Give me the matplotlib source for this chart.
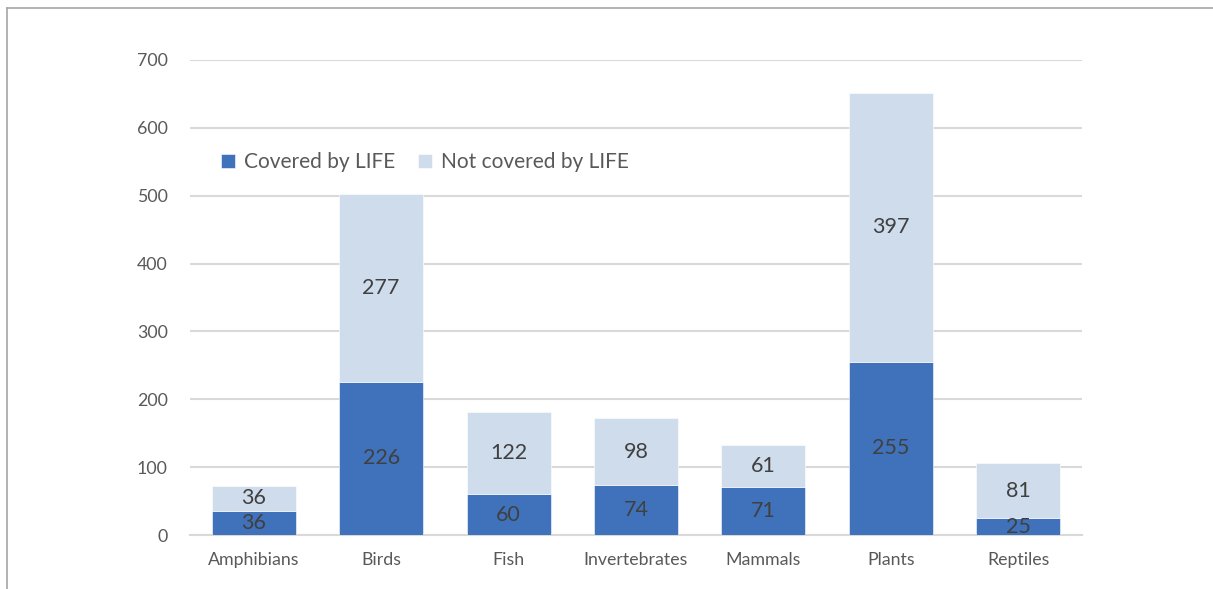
import numpy as np
import matplotlib
matplotlib.use('Agg')
import matplotlib.pyplot as plt
from matplotlib.lines import Line2D

plt.rcParams['font.family'] = ['Lato', 'DejaVu Sans']

# data
categories = ['Amphibians', 'Birds', 'Fish', 'Invertebrates', 'Mammals', 'Plants', 'Reptiles']
covered = [36, 226, 60, 74, 71, 255, 25]
not_covered = [36, 277, 122, 98, 61, 397, 81]
series_names = ['Covered by LIFE', 'Not covered by LIFE']

dark_blue = '#3F72BA'
light_blue = '#CFDCEC'
text_col = '#595959'
label_col = '#404040'

fig = plt.figure(figsize=(12.13, 5.89), dpi=100)
ax = fig.add_axes([190/1213, 1-535/589, (1082-190)/1213, (535-60)/589])

pos = np.arange(len(categories))
ax.bar(pos, covered, width=0.66, color=dark_blue, edgecolor='white', linewidth=0.4,
       label=series_names[0], zorder=3)
ax.bar(pos, not_covered, width=0.66, bottom=covered, color=light_blue, edgecolor='white',
       linewidth=0.4, label=series_names[1], zorder=3)

# value labels in the middle of each segment
for i in range(len(categories)):
    ax.text(pos[i], covered[i] / 2, str(covered[i]), ha='center', va='center',
            fontsize=15.5, color=label_col, zorder=4)
    ax.text(pos[i], covered[i] + not_covered[i] / 2, str(not_covered[i]), ha='center',
            va='center', fontsize=15.5, color=label_col, zorder=4)

ax.set_xlim(-0.5, len(categories) - 0.5)
ax.set_ylim(0, 700)
ax.set_yticks(range(0, 701, 100))
ax.set_xticks(pos)
ax.set_xticklabels(categories)
ax.yaxis.grid(True, color='#D9D9D9', linewidth=1.5, zorder=0)
ax.set_axisbelow(True)
for s in ['top', 'right', 'left']:
    ax.spines[s].set_visible(False)
ax.spines['bottom'].set_color('#D9D9D9')
ax.spines['bottom'].set_linewidth(1.5)
ax.tick_params(axis='both', length=0, labelsize=12.8, colors=text_col)
ax.tick_params(axis='y', pad=16)
ax.tick_params(axis='x', pad=12)

ax.legend(loc='upper left', bbox_to_anchor=(0.014, 0.845), ncol=2, frameon=False,
          fontsize=15, labelcolor=text_col, handlelength=0.65, handleheight=0.65,
          handletextpad=0.45, columnspacing=1.1)

# outer chart frame (only top and left visible in the reference)
fig.add_artist(Line2D([7/1213, 1.0], [1-8/589, 1-8/589], color='#A6A6A6', linewidth=1.2))
fig.add_artist(Line2D([7/1213, 7/1213], [0.0, 1-8/589], color='#A6A6A6', linewidth=1.2))

fig.savefig('out.png', dpi=100)
